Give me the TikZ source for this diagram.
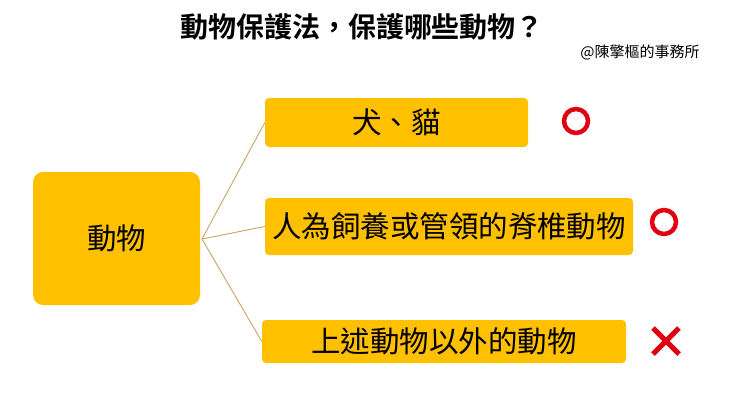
\documentclass[tikz,border=0pt]{standalone}
\usepackage{fontspec}
\usetikzlibrary{calc}
\newfontfamily\cjk{Noto Sans CJK TC}
\newfontfamily\cjkb{Noto Sans CJK TC Bold}
\definecolor{boxy}{HTML}{FFC000}
\definecolor{linec}{HTML}{C9A46A}
\definecolor{markred}{HTML}{E00010}
\begin{document}
\begin{tikzpicture}[x=1pt,y=-1pt,
  ybox/.style={fill=boxy,rounded corners=4pt,inner sep=0pt,font=\cjk\fontsize{29.5}{31}\selectfont},
  conn/.style={draw=linec,line width=0.9pt},
  ring/.style={draw=markred,line width=4.5pt},
  cross/.style={draw=markred,line width=5pt}]
\useasboundingbox (0,0) rectangle (740,413);
\node (title) at (362,27) {\cjkb\fontsize{28}{30}\selectfont 動物保護法，保護哪些動物？};
\node (credit) at (640,52) {\cjk\fontsize{15}{17}\selectfont @陳擎樞的事務所};
\node[ybox,rounded corners=10pt,minimum width=167pt,minimum height=133pt] (main) at (116.5,238.5) {動物};
\node[ybox,minimum width=263pt,minimum height=49pt] (b1) at (396.5,122.5) {犬、貓};
\node[ybox,minimum width=368pt,minimum height=57pt] (b2) at (449,226.5) {人為飼養或管領的脊椎動物};
\node[ybox,minimum width=364pt,minimum height=43pt] (b3) at (444,341.5) {上述動物以外的動物};
\coordinate (hub) at (202,239);
\draw[conn] (hub) -- (b1.west);
\draw[conn] (hub) -- (b2.west);
\draw[conn] (hub) -- (b3.west);
\node[ring,circle,minimum size=24pt,inner sep=0pt] (o1) at (576,121) {};
\node[ring,circle,minimum size=24pt,inner sep=0pt] (o2) at (664,222) {};
\coordinate (xc) at (666,341);
\draw[cross] ($(xc)+(-13,-13)$) -- ($(xc)+(13,13)$);
\draw[cross] ($(xc)+(-13,13)$) -- ($(xc)+(13,-13)$);
\end{tikzpicture}
\end{document}
